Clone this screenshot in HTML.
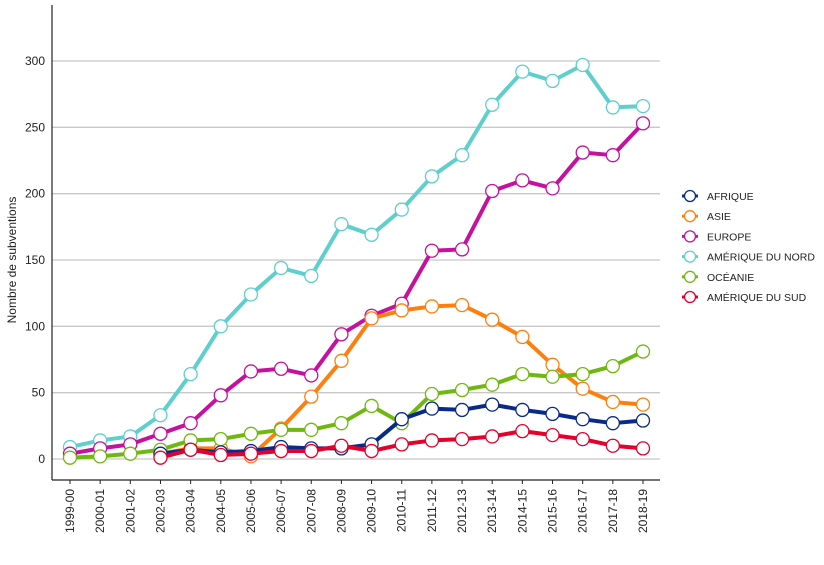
<!DOCTYPE html>
<html><head><meta charset="utf-8"><style>
body{margin:0;background:#fff;font-family:"Liberation Sans",sans-serif}
</style></head><body>
<svg id="c" width="824" height="560"></svg>
<script>
const categories=["1999-00","2000-01","2001-02","2002-03","2003-04","2004-05","2005-06","2006-07","2007-08","2008-09","2009-10","2010-11","2011-12","2012-13","2013-14","2014-15","2015-16","2016-17","2017-18","2018-19"];
const yTicks=[0,50,100,150,200,250,300];
const seriesNames=["AFRIQUE","ASIE","EUROPE","AMÉRIQUE DU NORD","OCÉANIE","AMÉRIQUE DU SUD"];
const seriesColors=["#0a2a8a","#ff7f0e","#c4119e","#5ecfcc","#6fb80f","#e4002b"];
const afrique=[null,null,null,4,7,5,6,9,8,8,11,30,38,37,41,37,34,30,27,29];
const asie=[null,null,null,4,8,8,2,23,47,74,106,112,115,116,105,92,71,53,43,41];
const europe=[4,8,11,19,27,48,66,68,63,94,108,117,157,158,202,210,204,231,229,253];
const nord=[9,14,17,33,64,100,124,144,138,177,169,188,213,229,267,292,285,297,265,266];
const oceanie=[1,2,4,7,14,15,19,22,22,27,40,27,49,52,56,64,62,64,70,81];
const sud=[null,null,null,1,7,3,4,6,6,10,6,11,14,15,17,21,18,15,10,8];
const drawOrder=[3,2,1,4,0,5];
const allSeries=[afrique,asie,europe,nord,oceanie,sud];
const NS="http://www.w3.org/2000/svg";
const svg=document.getElementById('c');
function mk(t,a,p){const e=document.createElementNS(NS,t);for(const k in a)e.setAttribute(k,a[k]);(p||svg).appendChild(e);return e;}
const x=i=>70+i*(573/19);
const y=v=>459-v*(398/300);
yTicks.forEach(t=>{
 const g=mk('line',{x1:52,x2:660,y1:y(t),y2:y(t),stroke:'#c8c8c8','stroke-width':1.3});
 
 const l=mk('text',{x:45,y:y(t)+4,'text-anchor':'end','font-size':12,fill:'#222'});l.textContent=t;
 
});
const ya=mk('line',{x1:52,x2:52,y1:5,y2:480,stroke:'#222','stroke-width':1.2});

const xa=mk('line',{x1:52,x2:660,y1:480,y2:480,stroke:'#222','stroke-width':1.2});

categories.forEach((c,i)=>{
 const tk=mk('line',{x1:x(i),x2:x(i),y1:480,y2:484,stroke:'#222'});
 
 const t=mk('text',{x:0,y:0,transform:`translate(${x(i)+4},489) rotate(-90)`,'text-anchor':'end','font-size':12,fill:'#222'});
 t.textContent=c;
});
const yt=mk('text',{transform:'translate(16,260) rotate(-90)','text-anchor':'middle','font-size':12,fill:'#222'});
yt.textContent='Nombre de subventions';
drawOrder.forEach(si=>{
 const d=allSeries[si],col=seriesColors[si];
 const g=mk('g',{});
 let pts=[];d.forEach((v,i)=>{if(v!==null)pts.push(x(i)+','+y(v));});
 const pl=mk('polyline',{points:pts.join(' '),fill:'none',stroke:col,'stroke-width':4,'stroke-linejoin':'round'},g);
 
 d.forEach((v,i)=>{if(v===null)return;
  const p=mk('circle',{cx:x(i),cy:y(v),r:6.5,fill:'#fff',stroke:col,'stroke-width':1.3},g);
  });
});
seriesNames.forEach((n,i)=>{
 const yy=196+i*20.2;
 const g=mk('g',{});
 mk('line',{x1:682,x2:698,y1:yy,y2:yy,stroke:seriesColors[i],'stroke-width':3},g);
 mk('circle',{cx:690,cy:yy,r:5.5,fill:'#fff',stroke:seriesColors[i],'stroke-width':1.3},g);
 const t=mk('text',{x:707,y:yy+4,'font-size':10.5,fill:'#222'},g);t.textContent=n;
});
</script>
</body></html>
